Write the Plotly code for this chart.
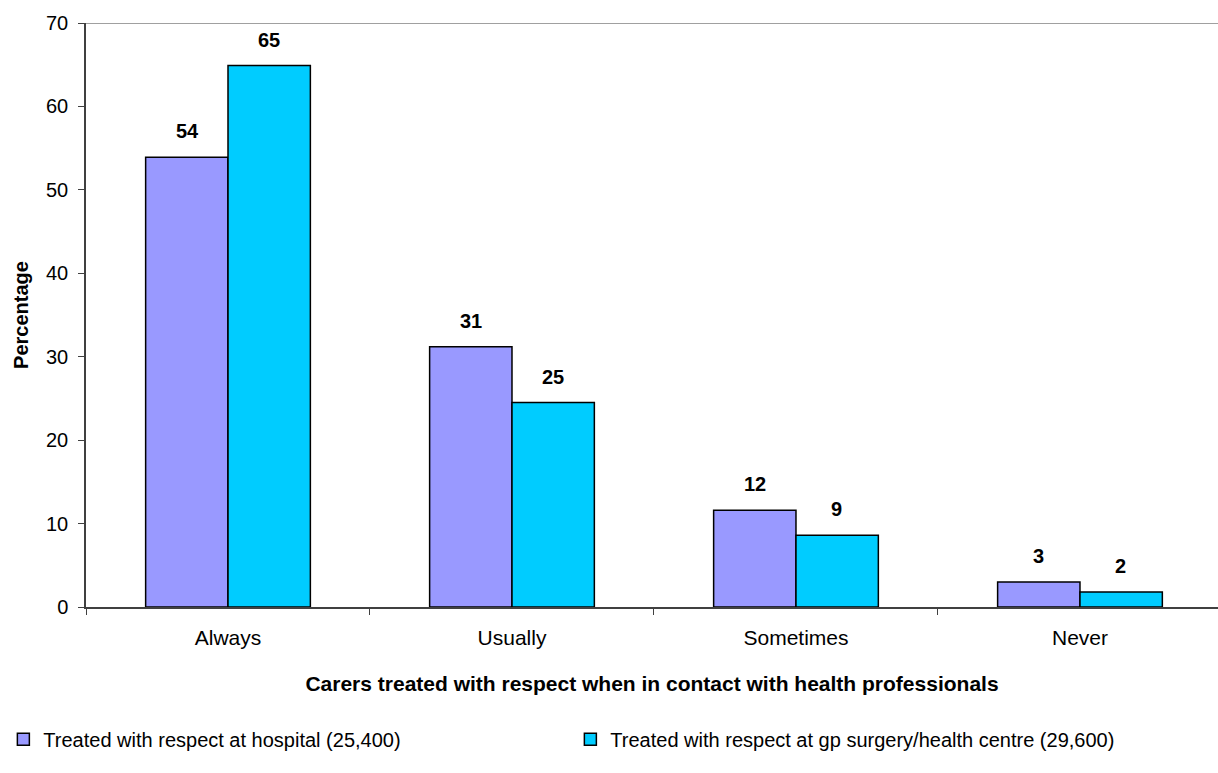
import plotly.graph_objects as go

# Survey responses: carers treated with respect by health professionals (%)
categories = ["Always", "Usually", "Sometimes", "Never"]
hospital = [53.9, 31.2, 11.6, 3.0]
gp_surgery = [64.9, 24.5, 8.6, 1.8]
series_names = [
    "Treated with respect at hospital (25,400)",
    "Treated with respect at gp surgery/health centre (29,600)",
]
y_ticks = [0, 10, 20, 30, 40, 50, 60, 70]

FONT = "Arial, Liberation Sans, sans-serif"
colors = ["#9999FF", "#00CCFF"]


def half_up(v):
    return int(v + 0.5)


fig = go.Figure()
for name, vals, col in zip(series_names, [hospital, gp_surgery], colors):
    fig.add_trace(go.Bar(
        x=categories, y=vals, name=name,
        marker=dict(color=col, line=dict(color="black", width=1.5)),
    ))

# Value labels above each bar (rounded to whole percent)
bar_px = 41
for vals, shift in [(hospital, -bar_px), (gp_surgery, bar_px)]:
    for cat, v in zip(categories, vals):
        fig.add_annotation(
            x=cat, y=v, text=f"<b>{half_up(v)}</b>", showarrow=False,
            xshift=shift, yshift=26, yanchor="middle",
            font=dict(family=FONT, size=20, color="black"),
        )

# Top border of the plot area
fig.add_shape(type="line", xref="paper", x0=0, x1=1, yref="y", y0=70, y1=70,
              line=dict(color="#808080", width=1.5))

fig.update_layout(
    width=1218, height=773,
    margin=dict(l=86, r=0, t=23, b=166),
    paper_bgcolor="white", plot_bgcolor="white",
    barmode="group", bargap=0.42, bargroupgap=0,
    font=dict(family=FONT, size=20, color="black"),
    showlegend=True,
    legend=dict(
        orientation="h", x=-0.073, xanchor="left", y=-0.193, yanchor="top",
        entrywidth=522, entrywidthmode="pixels",
        font=dict(family=FONT, size=20, color="black"),
    ),
    xaxis=dict(
        range=[-0.5, 3.486],
        showline=True, linecolor="#404040", linewidth=1.5,
        ticks="outside", tickson="boundaries", ticklen=6, tickcolor="#404040",
        tickfont=dict(family=FONT, size=21, color="black"),
        ticklabelstandoff=11,
        title=dict(text="<b>Carers treated with respect when in contact with health professionals</b>",
                   font=dict(family=FONT, size=21, color="black"), standoff=28),
        showgrid=False,
    ),
    yaxis=dict(
        range=[0, 70], tickvals=y_ticks,
        showline=True, linecolor="#404040", linewidth=1.5,
        ticks="outside", ticklen=6, tickcolor="#404040",
        tickfont=dict(family=FONT, size=20, color="black"),
        ticklabelstandoff=6,
        title=dict(text="<b>Percentage</b>", font=dict(family=FONT, size=20, color="black"),
                   standoff=12),
        showgrid=False, zeroline=False,
    ),
)

fig.write_html("out.html")
